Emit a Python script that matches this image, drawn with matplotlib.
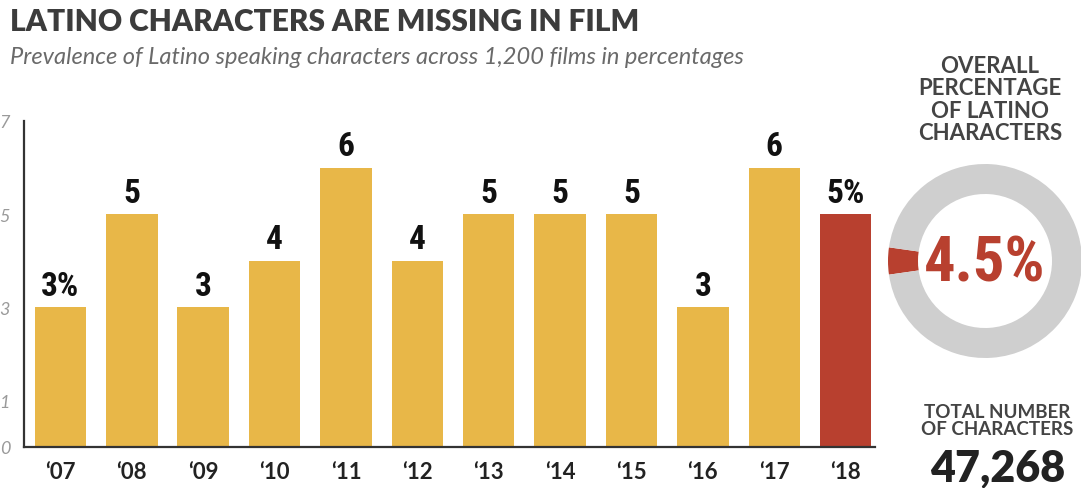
import matplotlib
matplotlib.use("Agg")
import matplotlib.pyplot as plt

# Data
years = ["‘07", "‘08", "‘09", "‘10", "‘11", "‘12", "‘13", "‘14", "‘15", "‘16", "‘17", "‘18"]
values = [3, 5, 3, 4, 6, 4, 5, 5, 5, 3, 6, 5]
value_labels = ["3%", "5", "3", "4", "6", "4", "5", "5", "5", "3", "6", "5%"]
y_ticks = [0, 1, 3, 5, 7]
overall_pct = 4.5
total_characters = "47,268"

GOLD = "#E8B748"
RED = "#B8402F"
RING = "#CFCFCF"
DARK = "#3C3C3C"

COND = ["Roboto Condensed", "DejaVu Sans"]
HEAD = ["Lato", "DejaVu Sans"]

W, H = 1081, 489
fig = plt.figure(figsize=(W / 100, H / 100), dpi=100)
fig.patch.set_facecolor("white")

# Title block
fig.text(10 / W, 1 - 22 / H, "LATINO CHARACTERS ARE MISSING IN FILM",
         family=HEAD, fontweight="heavy", fontsize=21.5, color=DARK,
         ha="left", va="center")
fig.text(10 / W, 1 - 58 / H,
         "Prevalence of Latino speaking characters across 1,200 films in percentages",
         family=HEAD, style="italic", fontsize=17, color="#6A6A6A",
         ha="left", va="center")

# Bar chart
ax = fig.add_axes([24 / W, 1 - 448 / H, (875 - 24) / W, (448 - 122) / H])
x = list(range(len(years)))
colors = [GOLD] * (len(years) - 1) + [RED]
ax.bar(x, values, width=0.72, color=colors, zorder=2)
ax.set_xlim(-0.51, 11.41)
ax.set_ylim(0, 6.78)

for xi, v, lab in zip(x, values, value_labels):
    ax.annotate(lab, (xi, v), xytext=(0, 9), textcoords="offset points",
                ha="center", va="baseline", family=COND, fontweight="bold",
                fontsize=24, color="#111111")

for s in ["top", "right"]:
    ax.spines[s].set_visible(False)
for s in ["left", "bottom"]:
    ax.spines[s].set_color("#333333")
    ax.spines[s].set_linewidth(1.6)

ax.set_yticks(y_ticks)
ax.set_yticklabels([str(t) for t in y_ticks], family=HEAD, style="italic",
                   fontsize=13, color="#9A9A9A")
ax.tick_params(axis="y", length=0, pad=10)
ax.set_xticks(x)
ax.set_xticklabels(years, family=HEAD, fontweight="bold", fontsize=16,
                   color="#222222")
ax.tick_params(axis="x", length=0, pad=10)

# Right panel: overall percentage donut
fig.text(990 / W, 1 - 100 / H, "OVERALL\nPERCENTAGE\nOF LATINO\nCHARACTERS",
         family=HEAD, fontweight="bold", fontsize=16, color="#444444",
         ha="center", va="center", linespacing=1.08)

dax = fig.add_axes([(985 - 100) / W, 1 - (262 + 100) / H, 200 / W, 200 / H])
span = overall_pct / 100 * 360
start = 180 - span / 2
dax.pie([overall_pct, 100 - overall_pct], colors=[RED, RING], startangle=start,
        radius=97, wedgeprops=dict(width=30, linewidth=0), center=(0, 0))
dax.set_xlim(-100, 100)
dax.set_ylim(-100, 100)
dax.set_aspect("equal")
dax.axis("off")
dax.text(0, -3, f"{overall_pct}%", family=COND, fontweight="bold",
         fontsize=45, color=RED, ha="center", va="center")

fig.text(997 / W, 1 - 421 / H, "TOTAL NUMBER\nOF CHARACTERS",
         family=HEAD, fontweight="bold", fontsize=13.5, color="#444444",
         ha="center", va="center", linespacing=1.05)
fig.text(998 / W, 1 - 468 / H, total_characters, family=HEAD,
         fontweight="heavy", fontsize=31, color="#222222",
         ha="center", va="center")

fig.savefig("out.png", dpi=100, facecolor="white")
